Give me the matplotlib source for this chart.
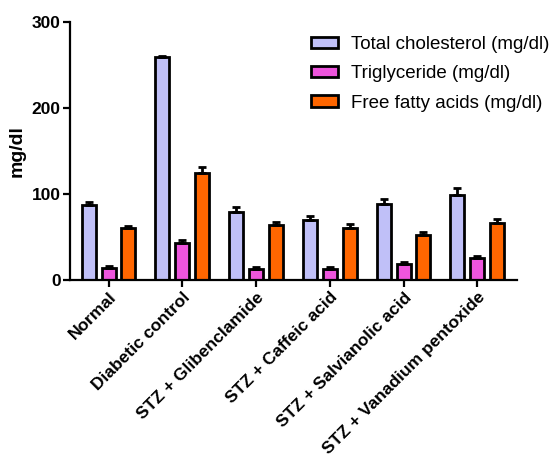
import matplotlib.pyplot as plt
import numpy as np

plt.rcParams["font.family"] = ["Liberation Sans", "DejaVu Sans"]

groups = ["Normal", "Diabetic control", "STZ + Glibenclamide", "STZ + Caffeic acid",
          "STZ + Salvianolic acid", "STZ + Vanadium pentoxide"]
series = ["Total cholesterol (mg/dl)", "Triglyceride (mg/dl)", "Free fatty acids (mg/dl)"]
tc = [87, 259, 79, 70, 88, 99]
tc_err = [4, 2, 6, 5, 6, 8]
tg = [14, 43, 13, 13, 19, 26]
tg_err = [2, 3, 2, 2, 2, 2]
ffa = [60, 125, 64, 61, 52, 66]
ffa_err = [3, 7, 4, 4, 4, 5]
colors = ["#C0C0F8", "#EE55DD", "#FF6600"]

fig = plt.figure(figsize=(5.53, 4.73), dpi=100)
ax = fig.add_axes([0.127, 0.408, 0.808, 0.545])

x = np.arange(len(groups))
w = 0.19
offs = [-0.27, 0, 0.27]
for vals, errs, c, off, lab in zip([tc, tg, ffa], [tc_err, tg_err, ffa_err], colors, offs, series):
    ax.bar(x + off, vals, width=w, color=c, edgecolor="black", linewidth=2, label=lab,
           yerr=[np.zeros(len(errs)), errs], capsize=3,
           error_kw=dict(elinewidth=2, capthick=2, ecolor="black"), zorder=2)

ax.set_xlim(-0.52, 5.54)
ax.set_ylim(0, 300)
ax.set_yticks([0, 100, 200, 300])
ax.set_xticks(x)
ax.set_xticklabels(groups, rotation=45, ha="right", rotation_mode="anchor",
                   fontsize=12.5, fontweight="bold")
for lbl in ax.get_yticklabels():
    lbl.set_fontsize(12.5)
    lbl.set_fontweight("bold")
ax.set_ylabel("mg/dl", fontsize=14, fontweight="bold", labelpad=4)
ax.spines["top"].set_visible(False)
ax.spines["right"].set_visible(False)
ax.spines["left"].set_linewidth(1.6)
ax.spines["bottom"].set_linewidth(1.6)
ax.tick_params(width=1.6, length=5, pad=2)

ax.legend(loc="upper right", bbox_to_anchor=(1.09, 0.975), frameon=False, fontsize=13.5,
          handlelength=1.45, handleheight=0.55, labelspacing=0.65, handletextpad=0.7,
          borderaxespad=0)

fig.savefig("out.png", dpi=100)
